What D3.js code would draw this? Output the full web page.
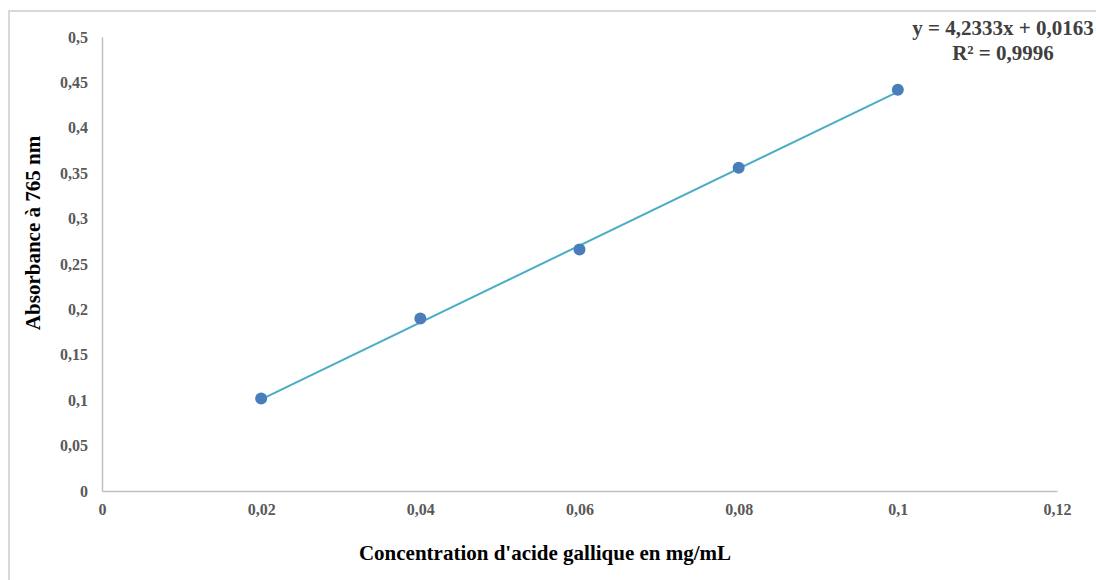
<!DOCTYPE html>
<html>
<head>
<meta charset="utf-8">
<script src="https://cdn.jsdelivr.net/npm/d3@7"></script>
<style>
  body { margin: 0; background: #fff; }
  svg { display: block; font-family: "Liberation Serif", "Times New Roman", serif; }
</style>
</head>
<body>
<div id="chart"></div>
<script>
// --- Data ---
const concentrations = [0.02, 0.04, 0.06, 0.08, 0.1];
const absorbances = [0.102, 0.19, 0.266, 0.356, 0.442];
const xTicks = [0, 0.02, 0.04, 0.06, 0.08, 0.1, 0.12];
const yTicks = [0, 0.05, 0.1, 0.15, 0.2, 0.25, 0.3, 0.35, 0.4, 0.45, 0.5];
const slope = 4.2333;
const intercept = 0.0163;
const equationLines = ['y = 4,2333x + 0,0163', 'R² = 0,9996'];

const width = 1096;
const height = 580;
const margin = { top: 37, right: 39, bottom: 89, left: 102 };

const svg = d3.select('#chart')
  .append('svg')
  .attr('width', width)
  .attr('height', height);

// chart frame (runs off the right/bottom edge)
svg.append('rect')
  .attr('x', 9).attr('y', 11)
  .attr('width', width + 20).attr('height', height + 20)
  .attr('fill', 'none')
  .attr('stroke', '#d9d9d9')
  .attr('stroke-width', 2);

const x = d3.scaleLinear().domain([0, 0.12]).range([margin.left, width - margin.right]);
const y = d3.scaleLinear().domain([0, 0.5]).range([height - margin.bottom, margin.top]);

const fmt = d => String(d).replace('.', ',');

// axes
const xAxis = svg.append('g')
  .attr('transform', `translate(0,${height - margin.bottom})`)
  .call(d3.axisBottom(x).tickValues(xTicks).tickSize(0).tickPadding(13).tickFormat(fmt));

const yAxis = svg.append('g')
  .attr('transform', `translate(${margin.left},0)`)
  .call(d3.axisLeft(y).tickValues(yTicks).tickSize(0).tickPadding(14).tickFormat(fmt));

[xAxis, yAxis].forEach(a => {
  a.select('.domain').attr('stroke', '#bfbfbf').attr('stroke-width', 1.5);
  a.selectAll('text')
    .attr('fill', '#595959')
    .style('font-size', '16px')
    .style('font-weight', 'bold')
    .style('font-family', '"Liberation Serif", serif');
});

// trend line
const trend = concentrations.map(c => [c, slope * c + intercept]);
const trendEnds = [trend[0], trend[trend.length - 1]];
svg.append('path')
  .datum(trendEnds)
  .attr('d', d3.line().x(d => x(d[0])).y(d => y(d[1])))
  .attr('fill', 'none')
  .attr('stroke', '#4bacc6')
  .attr('stroke-width', 2);

// points
svg.selectAll('.pt')
  .data(concentrations)
  .enter()
  .append('circle')
  .attr('class', 'pt')
  .attr('cx', d => x(d))
  .attr('cy', (d, i) => y(absorbances[i]))
  .attr('r', 6)
  .attr('fill', '#4a7ebb');

// equation label
svg.selectAll('.eq')
  .data(equationLines)
  .enter()
  .append('text')
  .attr('class', 'eq')
  .attr('x', 1003)
  .attr('y', (d, i) => 35 + i * 25)
  .attr('text-anchor', 'middle')
  .attr('fill', '#404040')
  .style('font-size', '21px')
  .style('font-weight', 'bold')
  .text(d => d);

// axis titles
svg.append('text')
  .attr('x', 545)
  .attr('y', 560)
  .attr('text-anchor', 'middle')
  .style('font-size', '21px')
  .style('font-weight', 'bold')
  .text("Concentration d'acide gallique en mg/mL");

svg.append('text')
  .attr('transform', 'translate(40,233) rotate(-90)')
  .attr('text-anchor', 'middle')
  .style('font-size', '21px')
  .style('font-weight', 'bold')
  .text('Absorbance à 765 nm');
</script>
</body>
</html>
